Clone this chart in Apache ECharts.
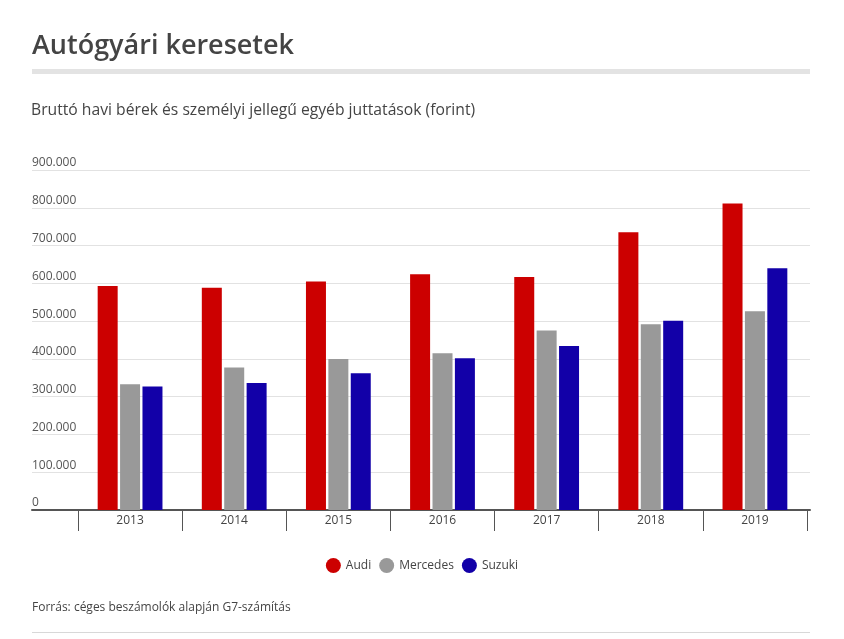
<!DOCTYPE html>
<html>
<head>
<meta charset="utf-8">
<script src="https://cdn.jsdelivr.net/npm/echarts@6/dist/echarts.min.js"></script>
<style>
  html, body { margin: 0; padding: 0; background: #fff; }
  #chart { width: 844px; height: 639px; }
</style>
</head>
<body>
<div id="chart"></div>
<script>
var years = ['2013', '2014', '2015', '2016', '2017', '2018', '2019'];
var audi = [593000, 588000, 605000, 624000, 617000, 735000, 811000];
var mercedes = [333000, 377000, 400000, 415000, 475000, 492000, 526000];
var suzuki = [327000, 336000, 362000, 402000, 434000, 501000, 640000];
var seriesNames = ['Audi', 'Mercedes', 'Suzuki'];
var colors = ['#cc0000', '#999999', '#1200a8'];

var font = '"Open Sans", sans-serif';

// ezres tagolás ponttal
function fmt(v) {
    return String(v).replace(/\B(?=(\d{3})+(?!\d))/g, '.');
}

var chart = echarts.init(document.getElementById('chart'));
var option = {
    animation: false,
    color: colors,
    title: [{
        text: 'Autógyári keresetek',
        left: 27, top: 28,
        textStyle: {fontFamily: font, fontSize: 27, fontWeight: 600, color: '#444'}
    }, {
        text: 'Bruttó havi bérek és személyi jellegű egyéb juttatások (forint)',
        left: 26, top: 98,
        textStyle: {fontFamily: font, fontSize: 15.7, fontWeight: 'normal', color: '#444'}
    }],
    legend: {
        data: seriesNames,
        top: 553,
        left: 'center',
        icon: 'circle',
        itemWidth: 15, itemHeight: 15, itemGap: 8,
        textStyle: {fontFamily: font, fontSize: 12, color: '#444'}
    },
    // a szürke vonalak és a forrás
    graphic: [{
        type: 'rect', shape: {x: 32, y: 69, width: 778, height: 5},
        style: {fill: '#e3e3e3'}
    }, {
        type: 'text', left: 32, top: 602,
        style: {text: 'Forrás: céges beszámolók alapján G7-számítás', font: '12px "Open Sans", sans-serif', fill: '#444'}
    }, {
        type: 'rect', shape: {x: 32, y: 632, width: 778, height: 1},
        style: {fill: '#d8d8d8'}
    }],
    grid: [
        {left: 32, right: 34, top: 170, bottom: 129},
        {left: 78, right: 37, top: 170, bottom: 129}
    ],
    xAxis: [{
        gridIndex: 0, type: 'value', min: 0, max: 1,
        axisLine: {show: true, lineStyle: {color: '#555', width: 2}},
        axisTick: {show: false}, axisLabel: {show: false}, splitLine: {show: false}
    }, {
        gridIndex: 1, type: 'category', data: years,
        axisLine: {show: false},
        axisTick: {show: true, length: 21, lineStyle: {color: '#555'}},
        axisLabel: {fontFamily: font, fontSize: 12, color: '#444', margin: 5}
    }],
    yAxis: [{
        gridIndex: 0, type: 'value', min: 0, max: 900000, interval: 100000,
        axisLine: {show: false}, axisTick: {show: false},
        splitLine: {lineStyle: {color: '#e2e2e2'}},
        axisLabel: {
            inside: true, margin: 0, align: 'left', verticalAlign: 'bottom',
            padding: [0, 0, 1, 0],
            fontFamily: font, fontSize: 12, color: '#555',
            formatter: fmt
        }
    }, {
        gridIndex: 1, type: 'value', min: 0, max: 900000, show: false
    }],
    series: [{
        name: seriesNames[0], type: 'bar', xAxisIndex: 1, yAxisIndex: 1,
        barWidth: 20, barGap: '12%', data: audi
    }, {
        name: seriesNames[1], type: 'bar', xAxisIndex: 1, yAxisIndex: 1,
        barWidth: 20, barGap: '12%', data: mercedes
    }, {
        name: seriesNames[2], type: 'bar', xAxisIndex: 1, yAxisIndex: 1,
        barWidth: 20, barGap: '12%', data: suzuki
    }]
};
chart.setOption(option);
</script>
</body>
</html>
